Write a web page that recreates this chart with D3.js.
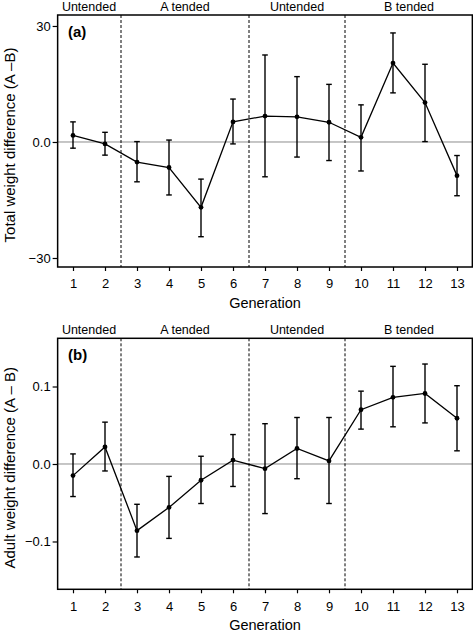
<!DOCTYPE html>
<html>
<head>
<meta charset="utf-8">
<script src="https://cdn.jsdelivr.net/npm/d3@7/dist/d3.min.js"></script>
<style>
  html, body { margin: 0; padding: 0; background: #fff; }
  svg { display: block; }
  text { font-family: "Liberation Sans", Arial, Helvetica, sans-serif; fill: #000; }
</style>
</head>
<body>
<svg id="chart" width="473" height="634"></svg>
<script>
// ---------- data ----------
const generations = [1, 2, 3, 4, 5, 6, 7, 8, 9, 10, 11, 12, 13];

const totalMean  = [1.7, -0.5, -5.2, -6.6, -16.9, 5.2, 6.7, 6.5, 5.1, 1.2, 20.4, 10.2, -8.7];
const totalLower = [-1.6, -3.4, -10.3, -13.7, -24.5, -0.5, -9.0, -3.9, -4.8, -7.5, 12.7, 0.1, -13.9];
const totalUpper = [5.2, 2.5, 0.1, 0.5, -9.6, 11.1, 22.5, 16.9, 14.9, 9.6, 28.2, 20.1, -3.5];

const adultMean  = [-0.015, 0.022, -0.086, -0.056, -0.021, 0.005, -0.006, 0.020, 0.004, 0.070, 0.086, 0.091, 0.059];
const adultLower = [-0.042, -0.009, -0.120, -0.096, -0.051, -0.029, -0.064, -0.019, -0.051, 0.045, 0.048, 0.053, 0.017];
const adultUpper = [0.013, 0.054, -0.052, -0.016, 0.010, 0.038, 0.052, 0.060, 0.060, 0.094, 0.126, 0.129, 0.101];

const phaseNames  = ["Untended", "A tended", "Untended", "B tended"];
const phaseStart  = [1, 3, 7, 10];
const phaseEnd    = [2, 6, 9, 13];
const phaseBreaks = [2.5, 6.5, 9.5];

const totalTicks = [-30, 0, 30];
const totalTickLabels = ["\u221230", "0.0", "30"];
const adultTicks = [-0.1, 0, 0.1];
const adultTickLabels = ["\u22120.1", "0.0", "0.1"];

// ---------- layout ----------
const svg = d3.select("#chart");
const x = d3.scaleLinear().domain([1, 13]).range([73, 457]);
const xMin = 0.52, xMax = 13.48;

const panels = [
  {
    tag: "(a)", mean: totalMean, lower: totalLower, upper: totalUpper,
    ticks: totalTicks, tickLabels: totalTickLabels,
    title: "Total weight difference (A \u2013B)",
    top: 15, bottom: 267, domain: [-32.33, 32.84]
  },
  {
    tag: "(b)", mean: adultMean, lower: adultLower, upper: adultUpper,
    ticks: adultTicks, tickLabels: adultTickLabels,
    title: "Adult weight difference (A \u2013 B)",
    top: 338.3, bottom: 589.3, domain: [-0.1617, 0.1622]
  }
];

panels.forEach(p => {
  const y = d3.scaleLinear().domain(p.domain).range([p.bottom, p.top]);
  const g = svg.append("g");
  const left = x(xMin), right = x(xMax);

  // zero reference line
  g.append("line")
    .attr("x1", left).attr("x2", right)
    .attr("y1", y(0)).attr("y2", y(0))
    .attr("stroke", "#8c8c8c").attr("stroke-width", 1);

  // phase break dashed lines
  g.selectAll("line.brk").data(phaseBreaks).enter().append("line")
    .attr("x1", d => x(d)).attr("x2", d => x(d))
    .attr("y1", p.top).attr("y2", p.bottom)
    .attr("stroke", "#000").attr("stroke-width", 1)
    .attr("stroke-dasharray", "3,2");

  // phase labels
  g.selectAll("text.phase").data(phaseNames).enter().append("text")
    .attr("x", (d, i) => x((phaseStart[i] + phaseEnd[i]) / 2))
    .attr("y", p.top - 4.3)
    .attr("text-anchor", "middle")
    .attr("font-size", 12.5)
    .text(d => d);

  // error bars
  const capW = 2.8;
  generations.forEach((gen, i) => {
    const cx = x(gen);
    g.append("line")
      .attr("x1", cx).attr("x2", cx)
      .attr("y1", y(p.lower[i])).attr("y2", y(p.upper[i]))
      .attr("stroke", "#000").attr("stroke-width", 1.4);
    [p.lower[i], p.upper[i]].forEach(v => {
      g.append("line")
        .attr("x1", cx - capW).attr("x2", cx + capW)
        .attr("y1", y(v)).attr("y2", y(v))
        .attr("stroke", "#000").attr("stroke-width", 1.4);
    });
  });

  // mean line
  const line = d3.line().x((d, i) => x(generations[i])).y(d => y(d));
  g.append("path")
    .attr("d", line(p.mean))
    .attr("fill", "none").attr("stroke", "#000").attr("stroke-width", 1.3);

  // points
  g.selectAll("circle").data(p.mean).enter().append("circle")
    .attr("cx", (d, i) => x(generations[i]))
    .attr("cy", d => y(d))
    .attr("r", 2.4).attr("fill", "#000");

  // box
  g.append("rect")
    .attr("x", left).attr("y", p.top)
    .attr("width", right - left).attr("height", p.bottom - p.top)
    .attr("fill", "none").attr("stroke", "#000").attr("stroke-width", 1.5);

  // y axis
  const yAxis = d3.axisLeft(y).tickValues(p.ticks)
    .tickFormat((d, i) => p.tickLabels[i]).tickSize(5).tickPadding(2);
  const ya = g.append("g").attr("transform", `translate(${left},0)`).call(yAxis);
  ya.select(".domain").remove();
  ya.selectAll("line").attr("stroke-width", 1.2);
  ya.selectAll("text").attr("font-size", 13).style("font-family", "Liberation Sans, Arial, sans-serif");

  // x axis
  const xAxis = d3.axisBottom(x).tickValues(generations)
    .tickFormat(d3.format("d")).tickSize(4).tickPadding(8);
  const xa = g.append("g").attr("transform", `translate(0,${p.bottom})`).call(xAxis);
  xa.select(".domain").remove();
  xa.selectAll("line").attr("stroke-width", 1.2);
  xa.selectAll("text").attr("font-size", 13).style("font-family", "Liberation Sans, Arial, sans-serif");

  // x title
  g.append("text")
    .attr("x", (left + right) / 2).attr("y", p.bottom + 41)
    .attr("text-anchor", "middle").attr("font-size", 14.5)
    .text("Generation");

  // y title
  const cy = (p.top + p.bottom) / 2 + 4;
  g.append("text")
    .attr("transform", `translate(15,${cy}) rotate(-90)`)
    .attr("text-anchor", "middle").attr("font-size", 15)
    .text(p.title);

  // panel tag
  g.append("text")
    .attr("x", 68).attr("y", p.top + 21.5)
    .attr("font-size", 15).attr("font-weight", "bold")
    .text(p.tag);
});
</script>
</body>
</html>
